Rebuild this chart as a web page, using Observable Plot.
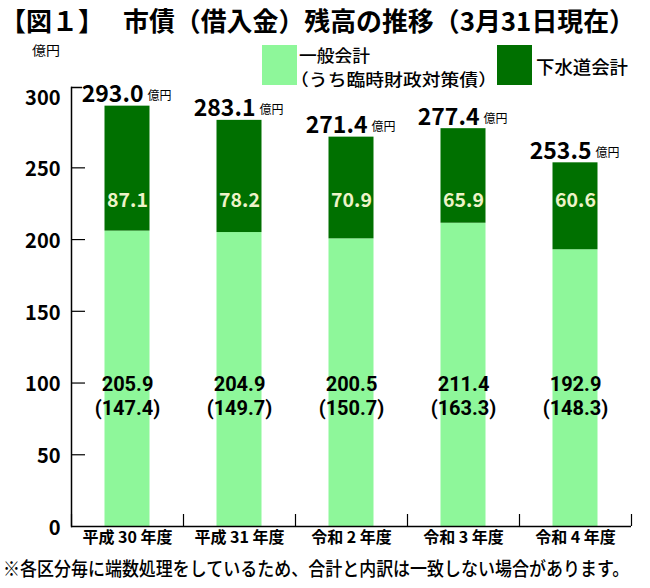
<!DOCTYPE html>
<html><head><meta charset="utf-8">
<script src="https://cdn.jsdelivr.net/npm/d3@7"></script>
<script src="https://cdn.jsdelivr.net/npm/@observablehq/plot@0.6"></script>
<style>
body{margin:0;background:#fff;}
#wrap{position:relative;width:650px;height:588px;overflow:hidden;font-family:"Noto Sans CJK JP",sans-serif;}
#wrap > svg{position:absolute;left:0;top:0;}
</style></head><body><div id="wrap"></div>
<script>
// ---- data ----
const years = ["平成 30 年度", "平成 31 年度", "令和 2 年度", "令和 3 年度", "令和 4 年度"];
const general = [205.9, 204.9, 200.5, 211.4, 192.9];   // 一般会計
const rinji = [147.4, 149.7, 150.7, 163.3, 148.3];     // うち臨時財政対策債
const sewer = [87.1, 78.2, 70.9, 65.9, 60.6];          // 下水道会計
const totals = [293.0, 283.1, 271.4, 277.4, 253.5];
const yTicks = [0, 50, 100, 150, 200, 250, 300];
const seriesNames = ["一般会計", "下水道会計"];
const seriesColors = ["#8ef79a", "#007000"];
const titleLead = "【図１】";
const titleText = "市債（借入金）残高の推移（3月31日現在）";
const unitText = "億円";
const legendLine2 = "（うち臨時財政対策債）";
const captionText = "※各区分毎に端数処理をしているため、合計と内訳は一致しない場合があります。";

// ---- layout ----
const W = 650, H = 588, mL = 71, mR = 19, mT = 87, mB = 62;
const frameW = W - mL - mR, frameH = H - mT - mB;
const yMax = 306;
const band = frameW / years.length;
const font = "Noto Sans CJK JP";

const rows = years.flatMap((y, i) => [
  {year: y, series: seriesNames[0], value: general[i]},
  {year: y, series: seriesNames[1], value: sewer[i]}
]);
const info = years.map((y, i) => ({year: y, total: totals[i], general: general[i], rinji: rinji[i], sewer: sewer[i]}));

const chart = Plot.plot({
  width: W, height: H,
  marginLeft: mL, marginRight: mR, marginTop: mT, marginBottom: mB,
  style: {fontFamily: font, background: "transparent"},
  x: {domain: years, padding: 0, label: null},
  y: {domain: [0, yMax], label: null},
  color: {domain: seriesNames, range: seriesColors},
  marks: [
    Plot.barY(rows, {x: "year", y: "value", fill: "series", insetLeft: 33.5, insetRight: 33.5}),
    // axes lines
    Plot.frame({anchor: "left", strokeWidth: 1.5}),
    Plot.ruleY([0], {strokeWidth: 1.5}),
    Plot.ruleY([yMax], {strokeWidth: 1.5, insetRight: frameW - 11}),
    Plot.ruleY(yTicks.filter(t => t > 0 && t < 300), {strokeWidth: 1.2, insetRight: frameW - 14}),
    Plot.ruleX(years, {x: d => d, dx: -band / 2, insetTop: frameH - 12, strokeWidth: 1.2}),
    Plot.ruleX([years[years.length - 1]], {x: d => d, dx: band / 2, insetTop: frameH - 12, strokeWidth: 1.2}),
    Plot.axisY(yTicks, {tickSize: 0, tickPadding: 11, fontSize: 20, fontWeight: "bold", dy: 2, fill: "#000"}),
    Plot.axisX({tickSize: 0, tickPadding: 5, fontSize: 16, fontWeight: "bold", fill: "#000"}),
    // total labels
    Plot.text(info, {x: "year", y: "total", text: d => d.total.toFixed(1), textAnchor: "end", lineAnchor: "bottom",
      dx: 16, dy: -4, fontSize: 23, fontWeight: "bold", fill: "#000"}),
    Plot.text(info, {x: "year", y: "total", text: () => unitText, textAnchor: "start", lineAnchor: "bottom",
      dx: 20, dy: -6, fontSize: 12, fill: "#000"}),
    // sewer labels
    Plot.text(info, {x: "year", text: d => d.sewer.toFixed(1), frameAnchor: "top", dy: 113, lineAnchor: "middle",
      fontSize: 19.5, fontWeight: "bold", fill: "#eef3c8"}),
    // general labels (two lines: general account, and the special bonds in parentheses)
    Plot.text(info, {x: "year", text: d => d.general.toFixed(1) + "\n(" + d.rinji.toFixed(1) + ")",
      frameAnchor: "bottom", dy: -131, lineAnchor: "middle", lineHeight: 1.17,
      fontSize: 20, fontWeight: "bold", fontFamily: "Roboto", fill: "#000"})
  ]
});

// ---- overlay: title, legend, unit, caption ----
const ns = "http://www.w3.org/2000/svg";
const ov = document.createElementNS(ns, "svg");
ov.setAttribute("width", W); ov.setAttribute("height", H);
ov.style.fontFamily = font;
function txt(s, x, y, size, weight, len, sy) {
  const t = document.createElementNS(ns, "text");
  t.textContent = s;
  if (sy) {
    t.setAttribute("transform", `translate(${x},${y}) scale(1,${sy})`);
  } else {
    t.setAttribute("x", x); t.setAttribute("y", y);
  }
  t.setAttribute("font-size", size);
  if (weight) t.setAttribute("font-weight", weight);
  if (len) { t.setAttribute("textLength", len); t.setAttribute("lengthAdjust", "spacingAndGlyphs"); }
  ov.appendChild(t);
}
function rect(x, y, w, h, c) {
  const r = document.createElementNS(ns, "rect");
  r.setAttribute("x", x); r.setAttribute("y", y); r.setAttribute("width", w); r.setAttribute("height", h);
  r.setAttribute("fill", c); ov.appendChild(r);
}
txt(titleLead, 0, 31, 26, "bold", 104);
txt(titleText, 123, 31, 26, "bold", 512);
txt(unitText, 32, 55, 13, null, 28);
rect(262, 45, 35, 40, seriesColors[0]);
txt(seriesNames[0], 299, 62, 16.5, "500", 71);
txt(legendLine2, 290, 86, 16.5, "500", 207);
rect(497, 45, 35, 40, seriesColors[1]);
txt(seriesNames[1], 536, 74, 18, "500", 92);
txt(captionText, 3, 576, 17, "500", null, 1.12);

const wrap = document.getElementById("wrap");
wrap.appendChild(chart);
wrap.appendChild(ov);
</script></body></html>
